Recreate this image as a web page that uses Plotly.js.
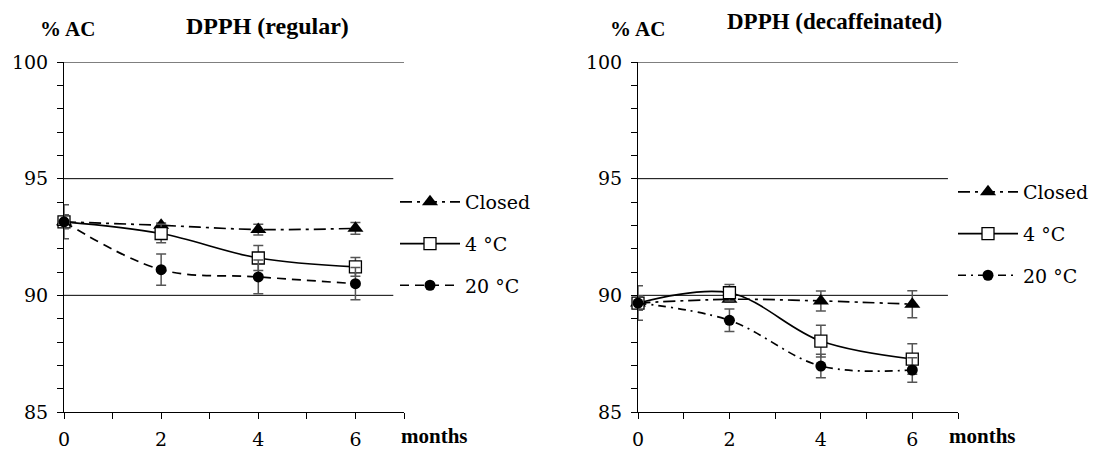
<!DOCTYPE html>
<html>
<head>
<meta charset="utf-8">
<script src="https://cdn.plot.ly/plotly-3.0.1.min.js"></script>
<style>html,body{margin:0;padding:0;background:#fff;}#chart{width:1118px;height:452px;}</style>
</head>
<body>
<div id="chart"></div>
<script>
// ---- data ----
const months = [0, 2, 4, 6];
const monthTickText = ['0', '2', '4', '6'];
const yTicks = [85, 90, 95, 100];
const seriesNames = ['Closed', '4 °C', '20 °C'];

const regClosed = [93.15, 93.0, 92.82, 92.87];
const regClosedErr = [0.73, 0.1, 0.23, 0.25];
const reg4 = [93.15, 92.65, 91.6, 91.22];
const reg4Err = [0.2, 0.4, 0.54, 0.4];
const reg20 = [93.15, 91.1, 90.79, 90.5];
const reg20Err = [0.3, 0.67, 0.72, 0.69];

const decClosed = [89.67, 89.83, 89.76, 89.62];
const decClosedErr = [0.74, 0.1, 0.43, 0.58];
const dec4 = [89.67, 90.11, 88.04, 87.27];
const dec4Err = [0.3, 0.35, 0.68, 0.65];
const dec20 = [89.67, 88.93, 86.97, 86.8];
const dec20Err = [0.3, 0.48, 0.5, 0.53];

// ---- styles ----
const serif = 'DejaVu Serif, serif';
const boldSerif = 'Liberation Serif, Times New Roman, serif';
const errStyle = (arr) => ({type: 'data', array: arr, visible: true, color: '#555', thickness: 1.5, width: 5});

function mk(x, y, err, name, xa, ya, leg, dash, marker, group) {
  return {
    x: x, y: y, name: name, type: 'scatter', mode: 'lines+markers',
    xaxis: xa, yaxis: ya, legend: leg, legendgroup: group,
    line: {color: '#000', width: 1.7, dash: dash, shape: 'spline', smoothing: 1},
    marker: marker, error_y: errStyle(err), cliponaxis: false
  };
}
const triM = {symbol: 'triangle-up', size: 14, color: '#000'};
const sqM = {symbol: 'square', size: 12, color: '#fff', line: {color: '#000', width: 1.3}};
const ciM = {symbol: 'circle', size: 11, color: '#000'};
const dashDot = '12px,5px,3px,5px';

const traces = [
  mk(months, regClosed, regClosedErr, seriesNames[0], 'x', 'y', 'legend', dashDot, triM, 'a'),
  mk(months, reg4, reg4Err, seriesNames[1], 'x', 'y', 'legend', 'solid', sqM, 'b'),
  mk(months, reg20, reg20Err, seriesNames[2], 'x', 'y', 'legend', '9px,6px', ciM, 'c'),
  mk(months, decClosed, decClosedErr, seriesNames[0], 'x2', 'y2', 'legend2', dashDot, triM, 'd'),
  mk(months, dec4, dec4Err, seriesNames[1], 'x2', 'y2', 'legend2', 'solid', sqM, 'e'),
  mk(months, dec20, dec20Err, seriesNames[2], 'x2', 'y2', 'legend2', '8px,5px,2px,5px', ciM, 'f')
];

function xAxis(domain, anchor) {
  return {
    domain: domain, anchor: anchor, range: [0, 7], showgrid: false, zeroline: false,
    showline: true, linecolor: '#000', linewidth: 1,
    tickmode: 'array', tickvals: months, ticktext: monthTickText,
    ticks: 'outside', ticklen: 6, tickcolor: '#000', ticklabelstandoff: 4,
    minor: {tickmode: 'linear', tick0: 0, dtick: 1, ticks: 'outside', ticklen: 6, tickcolor: '#000'},
    tickfont: {family: serif, size: 19, color: '#000'}, fixedrange: true
  };
}
function yAxis(domain, anchor) {
  return {
    domain: domain, anchor: anchor, range: [85, 100], showgrid: false, zeroline: false,
    showline: true, linecolor: '#000', linewidth: 1,
    tickmode: 'array', tickvals: yTicks,
    ticks: 'outside', ticklen: 6, tickcolor: '#000', ticklabelstandoff: 5,
    minor: {tickmode: 'linear', tick0: 85, dtick: 1, ticks: 'outside', ticklen: 6, tickcolor: '#000'},
    tickfont: {family: serif, size: 19, color: '#000'}, fixedrange: true
  };
}

const shapes = [];
[['x', 'y'], ['x2', 'y2']].forEach(([xr, yr]) => {
  yTicks.slice(1).forEach(v => {
    shapes.push({type: 'line', xref: xr, yref: yr, x0: 0, x1: v === 100 ? 7 : 6.78, y0: v, y1: v,
      line: {color: '#000', width: 1}, layer: 'below'});
  });
});

const W = 1118, H = 452;
const px = v => v / W, py = v => 1 - v / H;

const legendBase = {
  font: {family: serif, size: 19, color: '#000'}, bgcolor: 'rgba(0,0,0,0)',
  traceorder: 'grouped', tracegroupgap: 14, itemwidth: 60, xanchor: 'left', yanchor: 'top',
  itemclick: false, itemdoubleclick: false
};

const layout = {
  width: W, height: H, margin: {l: 0, r: 0, t: 0, b: 0},
  paper_bgcolor: '#fff', plot_bgcolor: 'rgba(0,0,0,0)', showlegend: true,
  xaxis: xAxis([px(64), px(404)], 'y'),
  yaxis: yAxis([py(412), py(62)], 'x'),
  xaxis2: xAxis([px(638), px(958)], 'y2'),
  yaxis2: yAxis([py(412), py(62)], 'x2'),
  shapes: shapes,
  legend: Object.assign({}, legendBase, {x: px(395), y: py(183)}),
  legend2: Object.assign({}, legendBase, {x: px(953), y: py(173)}),
  annotations: [
    {text: '<b>DPPH (regular)</b>', x: px(267), y: py(26), xref: 'paper', yref: 'paper', showarrow: false,
      font: {family: boldSerif, size: 24, color: '#000'}, xanchor: 'center', yanchor: 'middle'},
    {text: '<b>DPPH (decaffeinated)</b>', x: px(834), y: py(22), xref: 'paper', yref: 'paper', showarrow: false,
      font: {family: boldSerif, size: 23, color: '#000'}, xanchor: 'center', yanchor: 'middle'},
    {text: '<b>% AC</b>', x: px(67), y: py(29), xref: 'paper', yref: 'paper', showarrow: false,
      font: {family: boldSerif, size: 21, color: '#000'}, xanchor: 'center', yanchor: 'middle'},
    {text: '<b>% AC</b>', x: px(637), y: py(29), xref: 'paper', yref: 'paper', showarrow: false,
      font: {family: boldSerif, size: 21, color: '#000'}, xanchor: 'center', yanchor: 'middle'},
    {text: '<b>months</b>', x: px(434), y: py(436), xref: 'paper', yref: 'paper', showarrow: false,
      font: {family: boldSerif, size: 21, color: '#000'}, xanchor: 'center', yanchor: 'middle'},
    {text: '<b>months</b>', x: px(982), y: py(436), xref: 'paper', yref: 'paper', showarrow: false,
      font: {family: boldSerif, size: 21, color: '#000'}, xanchor: 'center', yanchor: 'middle'}
  ]
};

Plotly.newPlot('chart', traces, layout, {displayModeBar: false, staticPlot: true});
</script>
</body>
</html>
